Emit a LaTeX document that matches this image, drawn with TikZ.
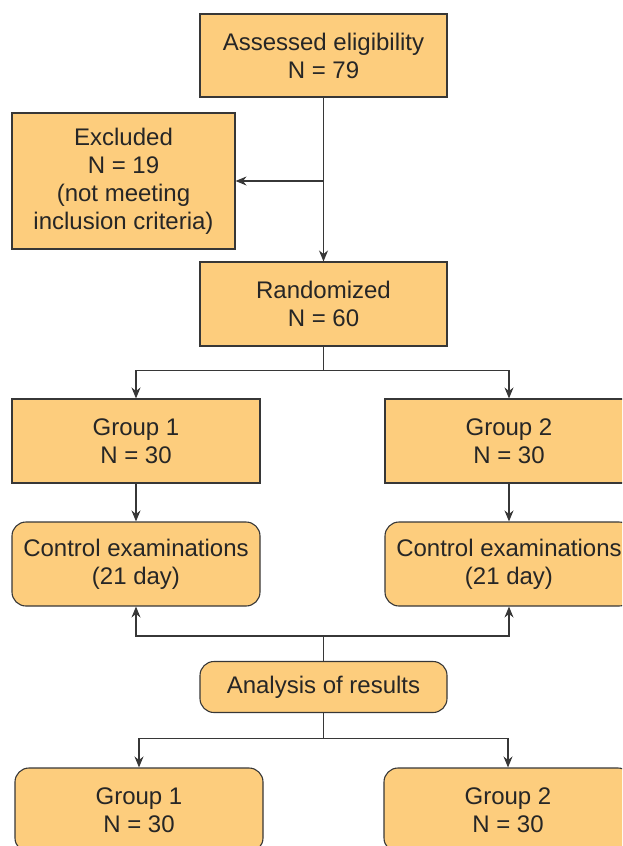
\documentclass[tikz,border=0pt]{standalone}
\usepackage{fontspec}
\setmainfont{Liberation Sans}
\usetikzlibrary{arrows.meta}
\definecolor{boxfill}{RGB}{253,205,125}
\definecolor{boxline}{RGB}{55,55,55}

\begin{document}
\begin{tikzpicture}[x=1pt, y=-1pt,
    flowbox/.style={rectangle, draw=boxline, line width=1.1pt, fill=boxfill, align=center,
        text=black!85, font=\fontsize{24}{28}\selectfont, inner sep=0pt},
    roundbox/.style={flowbox, rounded corners=14pt},
    link/.style={draw=boxline, line width=1.1pt},
    arrowlink/.style={link, -{Stealth[length=11pt, width=9pt]}}]
                \clip (0,0) rectangle (622,846);
                \useasboundingbox (0,0) rectangle (622,846);
                % Enrolment
                \node[flowbox, minimum width=247pt, minimum height=83pt] (assessed) at (323.5,55.5) {Assessed eligibility\\N = 79};
                \node[flowbox, minimum width=223pt, minimum height=136pt] (excluded) at (123.5,181) {Excluded\\N = 19\\(not meeting\\inclusion criteria)};
                \node[flowbox, minimum width=247pt, minimum height=84pt] (randomized) at (323.5,304) {Randomized\\N = 60};

                % Allocation
                \node[flowbox, minimum width=248pt, minimum height=84pt] (group1) at (136,441) {Group 1\\N = 30};
                \node[flowbox, minimum width=248pt, minimum height=84pt] (group2) at (509,441) {Group 2\\N = 30};
                \node[roundbox, minimum width=248pt, minimum height=84pt] (control1) at (136,564) {Control examinations\\(21 day)};
                \node[roundbox, minimum width=248pt, minimum height=84pt] (control2) at (509,564) {Control examinations\\(21 day)};

                % Analysis
                \node[roundbox, minimum width=247pt, minimum height=51pt] (analysis) at (323.5,687) {Analysis of results};
                \node[roundbox, minimum width=248pt, minimum height=84pt] (result1) at (139,810) {Group 1\\N = 30};
                \node[roundbox, minimum width=248pt, minimum height=84pt] (result2) at (508,810) {Group 2\\N = 30};

                \coordinate (split1) at (assessed.south |- excluded.east);
                \draw[arrowlink] (assessed.south) -- (randomized.north);
                \draw[arrowlink] (split1) -- (excluded.east);

                \draw[link] (randomized.south) -- ++(0,24) coordinate (split2);
                \draw[arrowlink] (split2) -| (group1.north);
                \draw[arrowlink] (split2) -| (group2.north);
                \draw[arrowlink] (group1.south) -- (control1.north);
                \draw[arrowlink] (group2.south) -- (control2.north);

                \draw[link] (analysis.north) -- ++(0,-25) coordinate (split3);
                \draw[arrowlink] (split3) -| (control1.south);
                \draw[arrowlink] (split3) -| (control2.south);

                \draw[link] (analysis.south) -- ++(0,25) coordinate (split4);
                \draw[arrowlink] (split4) -| (result1.north);
                \draw[arrowlink] (split4) -| (result2.north);
            \end{tikzpicture}
\end{document}
